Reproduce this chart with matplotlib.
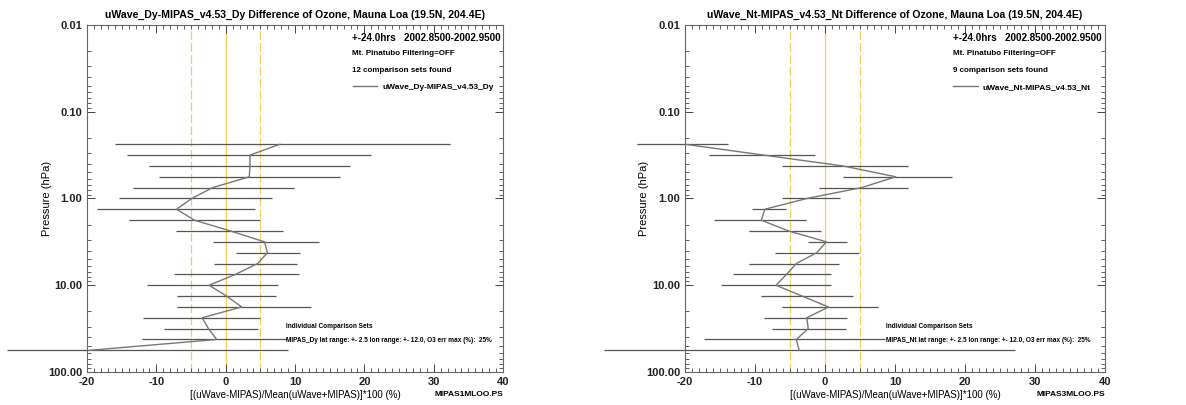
import matplotlib
matplotlib.use('Agg')
from matplotlib import pyplot as plt
from matplotlib.ticker import FixedLocator, MultipleLocator, LogLocator, NullFormatter, FormatStrFormatter

plt.rcParams['font.family'] = ['Liberation Sans', 'DejaVu Sans']
plt.rcParams['font.weight'] = 'bold'
plt.rcParams['axes.unicode_minus'] = False

# pressure levels (hPa)
pressure = [0.237, 0.316, 0.422, 0.562, 0.750, 1.00, 1.33, 1.78, 2.37, 3.16,
            4.22, 5.62, 7.50, 10.0, 13.3, 17.8, 23.7, 31.6, 42.2, 56.2]

# uWave_Dy - MIPAS_v4.53_Dy
dy_mean = [7.8, 3.5, 3.5, 3.4, -1.9, -4.9, -7.1, -4.5, 0.7, 5.6,
           6.0, 4.6, 1.4, -2.4, 0.1, 2.3, -3.4, -2.5, -1.3, -19.6]
dy_low = [-16.0, -14.3, -11.1, -9.6, -13.4, -15.4, -18.6, -13.9, -7.2, -1.9,
          1.5, -1.7, -7.5, -11.4, -7.0, -7.0, -12.0, -8.9, -12.1, -31.6]
dy_high = [32.3, 21.0, 17.9, 16.5, 9.8, 6.6, 4.2, 5.0, 8.3, 13.5,
           10.7, 10.3, 10.6, 7.5, 7.2, 12.3, 4.9, 4.7, 8.8, 9.0]

# uWave_Nt - MIPAS_v4.53_Nt
nt_mean = [-20.0, -8.8, 2.6, 10.1, 5.2, -2.6, -8.6, -9.1, -5.2, 0.2,
           -1.2, -4.1, -5.5, -7.0, -3.3, 0.5, -2.6, -2.4, -4.1, -3.7]
nt_low = [-26.8, -16.6, -6.1, 2.5, -0.9, -6.1, -10.4, -15.9, -10.9, -2.5,
          -7.2, -10.9, -13.2, -14.9, -9.1, -6.2, -8.7, -7.6, -17.3, -31.6]
nt_high = [-13.9, -1.4, 11.8, 18.1, 11.9, 2.1, -5.6, -2.7, -0.6, 3.2,
           4.9, 2.0, 0.9, 0.9, 4.0, 7.6, 3.1, 3.0, 8.6, 27.1]

panels = [
    {'tag': 'Dy', 'n': 12, 'mean': dy_mean, 'low': dy_low, 'high': dy_high,
     'file': 'MIPAS1MLOO.PS', 'rect': [0.0734, 0.0815, 0.3508, 0.8568]},
    {'tag': 'Nt', 'n': 9, 'mean': nt_mean, 'low': nt_low, 'high': nt_high,
     'file': 'MIPAS3MLOO.PS', 'rect': [0.5776, 0.0815, 0.3541, 0.8568]},
]

fig = plt.figure(figsize=(11.86, 4.05), dpi=100)

for pn in panels:
    ax = fig.add_axes(pn['rect'])
    name = 'uWave_%s-MIPAS_v4.53_%s' % (pn['tag'], pn['tag'])

    # reference lines
    ax.axvline(0, color='#f3cf5a', lw=0.9, zorder=1)
    ax.axvline(-5, color='#f3cf5a', lw=0.9, dashes=(7, 2.5), zorder=1)
    ax.axvline(5, color='#f3cf5a', lw=0.9, dashes=(7, 2.5), zorder=1)

    ax.hlines(pressure, pn['low'], pn['high'], color='#555555', lw=0.9, clip_on=False, zorder=2)
    ax.plot(pn['mean'], pressure, color='#777777', lw=1.0, label=name, zorder=3)

    ax.set_yscale('log')
    ax.set_ylim(100, 0.01)
    ax.set_xlim(-20, 40)
    ax.xaxis.set_major_locator(MultipleLocator(10))
    ax.xaxis.set_minor_locator(MultipleLocator(1))
    ax.yaxis.set_major_locator(FixedLocator([0.01, 0.1, 1, 10, 100]))
    ax.yaxis.set_minor_locator(LogLocator(base=10, subs=range(2, 10)))
    ax.yaxis.set_major_formatter(FormatStrFormatter('%.2f'))
    ax.yaxis.set_minor_formatter(NullFormatter())
    ax.tick_params(which='both', direction='in', top=True, right=True,
                   colors='#444444', labelcolor='#222222', labelsize=8)
    ax.tick_params(which='major', length=6, width=0.7)
    ax.tick_params(which='minor', length=3, width=0.6)
    for sp in ax.spines.values():
        sp.set_color('#666666')
        sp.set_linewidth(0.8)

    ax.set_title(name + ' Difference of Ozone, Mauna Loa (19.5N, 204.4E)',
                 fontsize=7.6, fontweight='bold', pad=5)
    ax.set_xlabel('[(uWave-MIPAS)/Mean(uWave+MIPAS)]*100 (%)', fontsize=7.0, labelpad=2)
    ax.set_ylabel('Pressure (hPa)', fontsize=8)
    ax.yaxis.set_label_coords(-0.085, 0.5)

    ax.text(0.637, 0.9625, '+-24.0hrs   2002.8500-2002.9500', transform=ax.transAxes,
            fontsize=7.1, va='center', ha='left')
    ax.text(0.637, 0.919, 'Mt. Pinatubo Filtering=OFF', transform=ax.transAxes,
            fontsize=5.8, va='center', ha='left')
    ax.text(0.637, 0.870, '%d comparison sets found' % pn['n'], transform=ax.transAxes,
            fontsize=5.8, va='center', ha='left')
    ax.legend(loc='upper left', bbox_to_anchor=(0.627, 0.847), frameon=False,
              fontsize=6.0, handlelength=2.9, handletextpad=0.6, borderpad=0.1)

    ax.text(0.478, 0.130, 'Individual Comparison Sets', transform=ax.transAxes,
            fontsize=4.7, va='center', ha='left')
    ax.text(0.478, 0.092, 'MIPAS_%s lat range: +- 2.5 lon range: +- 12.0, O3 err max (%%):  25%%' % pn['tag'],
            transform=ax.transAxes, fontsize=4.7, va='center', ha='left')
    ax.text(1.0, -0.066, pn['file'], transform=ax.transAxes,
            fontsize=6, va='center', ha='right')

fig.savefig('out.png', dpi=100)
